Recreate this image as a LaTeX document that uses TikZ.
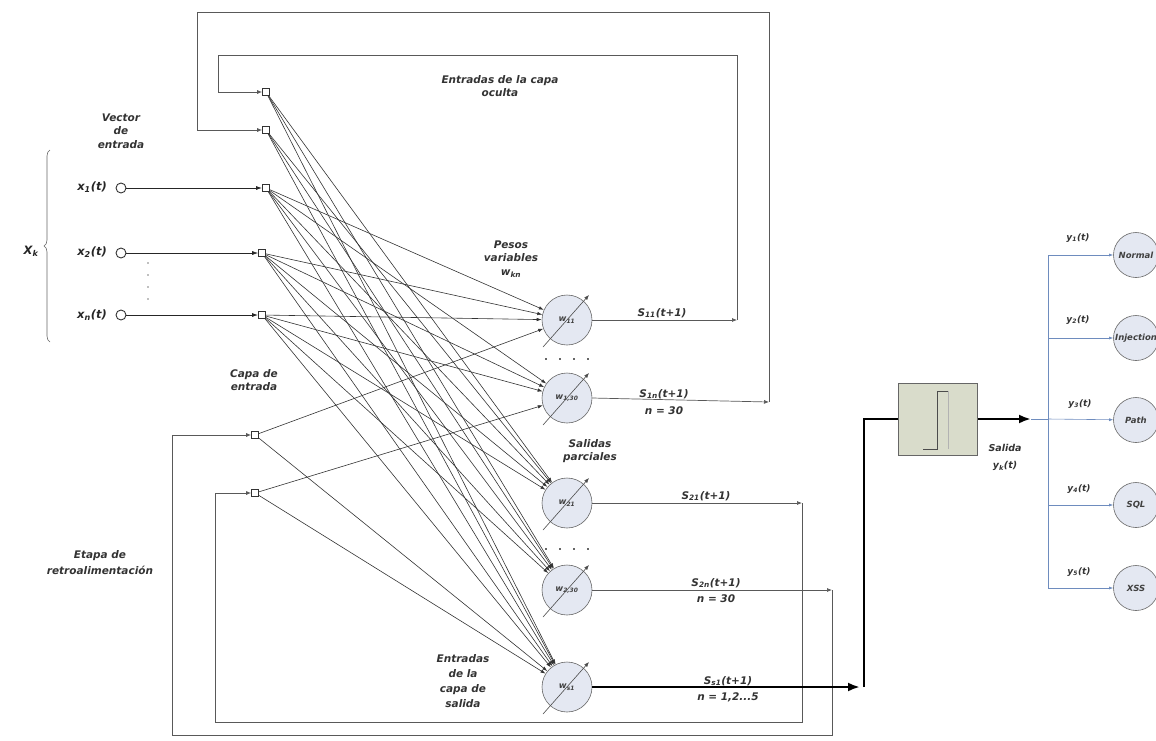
\documentclass[tikz,border=0pt]{standalone}
\usepackage{fontspec}
\setmainfont{DejaVu Sans}
\usetikzlibrary{arrows.meta,calc,decorations.pathreplacing}
\definecolor{neuronfill}{RGB}{228,232,242}
\definecolor{boxfill}{RGB}{217,220,203}
\definecolor{bluel}{RGB}{110,140,190}
\begin{document}
\begin{tikzpicture}[x=1pt,y=-1pt,
 lbl/.style={font=\fontsize{10.5}{13.5}\selectfont\bfseries\itshape, text=black!80, align=center, inner sep=1pt},
 slbl/.style={font=\fontsize{10.5}{12}\selectfont\bfseries\itshape, text=black!80, inner sep=1pt},
 ylbl/.style={font=\fontsize{9}{10}\selectfont\bfseries\itshape, text=black!80, inner sep=1pt},
 xlbl/.style={font=\fontsize{11.5}{13}\selectfont\bfseries\itshape, text=black!85, inner sep=1pt},
 sq/.style={draw=black!80, fill=white, minimum size=7pt, inner sep=0pt, line width=0.6pt},
 incirc/.style={circle, draw=black!80, fill=white, minimum size=10pt, inner sep=0pt, line width=0.9pt},
 neuron/.style={circle, draw=black!60, fill=neuronfill, minimum size=50pt, inner sep=0pt, line width=0.6pt, font=\fontsize{8.5}{10}\selectfont\bfseries\itshape, text=black!75},
 outc/.style={circle, draw=black!60, fill=neuronfill, minimum size=45pt, inner sep=0pt, line width=0.6pt, font=\fontsize{8.5}{10}\selectfont\bfseries\itshape, text=black!75},
 conn/.style={draw=black!80, line width=0.6pt, -{Latex[length=5pt,width=3.5pt]}},
 fb/.style={draw=black!65, line width=0.9pt},
 fbarr/.style={fb, -{Latex[length=5pt,width=4pt]}},
 inarr/.style={draw=black!85, line width=1pt, -{Latex[length=6pt,width=4pt]}},
 heavy/.style={draw=black, line width=2.6pt},
 blu/.style={draw=bluel, line width=0.6pt},
 bluarr/.style={blu, -{Latex[length=4pt,width=3pt]}},
 diag/.style={draw=black!70, line width=0.6pt, -{Latex[length=5pt,width=4pt]}}
]
\useasboundingbox (0,0) rectangle (1156,740);

% input layer squares
\node[sq] (sq1) at (266,92) {};
\node[sq] (sq2) at (266,130) {};
\node[sq] (sq3) at (266,188) {};
\node[sq] (sq4) at (262,253) {};
\node[sq] (sq5) at (262,315) {};
\node[sq] (sq6) at (255,435) {};
\node[sq] (sq7) at (255,493) {};

% input vector
\node[incirc] (i1) at (121,188) {};
\node[incirc] (i2) at (121,253) {};
\node[incirc] (i3) at (121,315) {};
\node[xlbl, anchor=east] (xl1) at (108,187) {x\textsubscript{1}(t)};
\node[xlbl, anchor=east] (xl2) at (108,252) {x\textsubscript{2}(t)};
\node[xlbl, anchor=east] (xl3) at (108,315) {x\textsubscript{n}(t)};
\node[xlbl] (xk) at (31,251) {X\textsubscript{k}};
\draw[black!60, line width=0.6pt, decorate, decoration={brace, amplitude=6pt}] (50,342) -- (50,150);
\foreach \yy in {263,275,287,299} \fill[black!50] (148,\yy) circle (0.9);
\node[lbl] (vec) at (121,131) {Vector\\de\\entrada};

\draw[inarr] (i1) -- (sq3);
\draw[inarr, line width=0.7pt] (i2) -- (sq4);
\draw[inarr] (i3) -- (sq5);

% hidden / output neurons
\node[neuron] (n1) at (567,320) {w\textsubscript{11}};
\node[neuron] (n2) at (567,398) {w\textsubscript{1,30}};
\node[neuron] (n3) at (567,503) {w\textsubscript{21}};
\node[neuron] (n4) at (567,590) {w\textsubscript{2,30}};
\node[neuron] (n5) at (567,687) {w\textsubscript{s1}};

% connections
\foreach \s in {sq1,sq2} \foreach \n in {n3,n4,n5} \draw[conn] (\s) -- (\n);
\foreach \s in {sq3,sq4,sq5} \foreach \n in {n1,n2,n3,n4,n5} \draw[conn] (\s) -- (\n);
\draw[conn] (sq6) -- (n1);
\draw[conn] (sq6) -- (n5);
\draw[conn] (sq7) -- (n2);
\draw[conn] (sq7) -- (n5);

% variable weight arrows
\foreach \n in {n1,n2,n3,n4,n5}
  \draw[diag] ($(\n)+(-24,27)$) -- ($(\n)+(22,-25)$);

% dots between neurons
\foreach \xx in {545,559,573,587} \fill[black!60] (\xx,358) rectangle ++(1.6,1.6);
\foreach \xx in {545,559,573,587} \fill[black!60] (\xx,548) rectangle ++(1.6,1.6);

% outputs and feedback
\coordinate (c11) at (737,320);
\coordinate (c12) at (769,402);
\coordinate (c21) at (802,503);
\coordinate (c22) at (832,590);
\coordinate (c5) at (860,687);

\draw[fbarr, line width=0.7pt] (n1.east) -- (c11);
\draw[fbarr] (c11) |- (218,55) |- (sq1.west);
\draw[fbarr, line width=0.7pt] (n2.east) -- (c12);
\draw[fbarr] (c12) |- (197,12) |- (sq2.west);
\draw[fbarr, line width=0.7pt] (n3.east) -- (c21);
\draw[fbarr] (c21) |- (215,722) |- (sq7.west);
\draw[fbarr, line width=0.7pt] (n4.east) -- (c22);
\draw[fbarr] (c22) |- (172,735) |- (sq6.west);

\node[slbl] (s11) at (662,313) {S\textsubscript{11}(t+1)};
\node[slbl] (s1n) at (664,394) {S\textsubscript{1n}(t+1)};
\node[slbl] (s1nb) at (664,411) {n = 30};
\node[slbl] (s21) at (706,496) {S\textsubscript{21}(t+1)};
\node[slbl] (s2n) at (716,583) {S\textsubscript{2n}(t+1)};
\node[slbl] (s2nb) at (716,599) {n = 30};
\node[slbl] (ss1) at (728,681) {S\textsubscript{s1}(t+1)};
\node[slbl] (ss1b) at (728,697) {n = 1,2...5};

% threshold box
\node[draw=black!60, fill=boxfill, minimum width=79pt, minimum height=72pt, inner sep=0pt, line width=0.7pt] (box) at (938,419) {};
\draw[black!70, line width=0.7pt] (923,449) -- (937,449) -- (937,391) -- (948,391);
\draw[black!30, line width=0.6pt] (948,391) -- (948,449);

\draw[heavy, -{Latex[length=12pt,width=9pt]}] (n5.east) -- (c5);
\draw[heavy] (c5) ++(4,0) |- (box.west);
\coordinate (yk) at (1031,419);
\draw[heavy, -{Latex[length=12pt,width=9pt]}] (box.east) -- (yk);
\node[lbl, font=\fontsize{9.5}{17}\selectfont\bfseries\itshape] (sal) at (1005,457) {Salida\\y\textsubscript{k}(t)};

% output classes
\node[outc] (o1) at (1136,255) {Normal};
\node[outc] (o2) at (1136,338) {Injection};
\node[outc] (o3) at (1136,420) {Path};
\node[outc] (o4) at (1136,505) {SQL};
\node[outc] (o5) at (1136,588) {XSS};
\coordinate (br) at (1048,419);
\draw[blu] (yk) -- (br);
\draw[blu] (1048,255) -- (1048,588);
\draw[bluarr] (1048,255) -- (o1);
\draw[bluarr] (1048,338) -- (o2);
\draw[bluarr] (br) -- (o3);
\draw[bluarr] (1048,505) -- (o4);
\draw[bluarr] (1048,588) -- (o5);
\node[ylbl] (y1) at (1078,238) {y\textsubscript{1}(t)};
\node[ylbl] (y2) at (1078,320) {y\textsubscript{2}(t)};
\node[ylbl] (y3) at (1080,404) {y\textsubscript{3}(t)};
\node[ylbl] (y4) at (1079,489) {y\textsubscript{4}(t)};
\node[ylbl] (y5) at (1079,572) {y\textsubscript{5}(t)};

% other labels
\node[lbl] (eco) at (500,86) {Entradas de la capa\\oculta};
\node[lbl] (pesos) at (511,259) {Pesos\\variables\\w\textsubscript{kn}};
\node[lbl] (capa) at (254,380) {Capa de\\entrada};
\node[lbl] (salp) at (590,451) {Salidas\\parciales};
\node[lbl, font=\fontsize{10.5}{15}\selectfont\bfseries\itshape] (ecs) at (463,681) {Entradas\\de la\\capa de\\salida};
\node[lbl, font=\fontsize{10.5}{16}\selectfont\bfseries\itshape] (etapa) at (100,563) {Etapa de\\retroalimentación};
\end{tikzpicture}
\end{document}
